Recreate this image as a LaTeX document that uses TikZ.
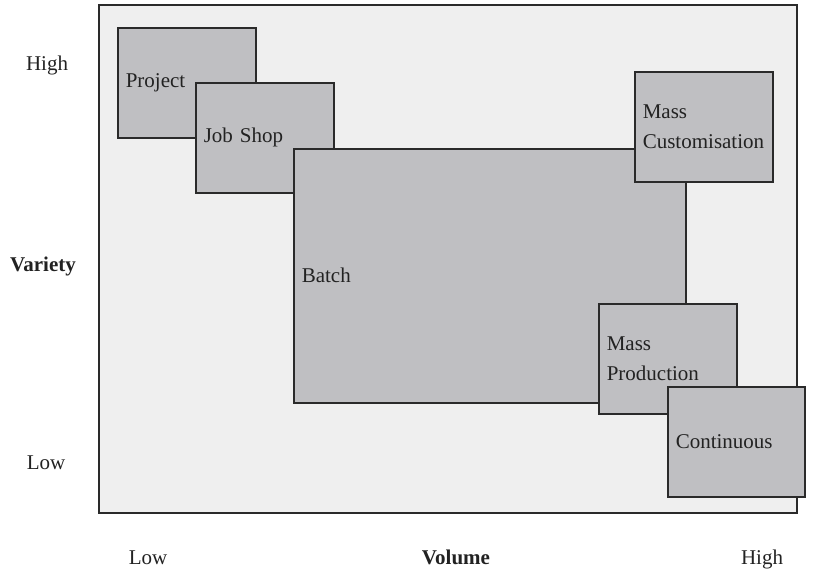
\documentclass[tikz,border=0pt]{standalone}
\usepackage{fontspec}
\setmainfont{Liberation Serif}
\definecolor{panel}{HTML}{EFEFEF}
\definecolor{boxfill}{HTML}{BFBFC2}
\definecolor{edge}{HTML}{2A2A2A}
\definecolor{ink}{HTML}{222222}
\begin{document}
\begin{tikzpicture}[x=1pt,y=-1pt,
  every node/.style={font=\fontsize{21}{30}\selectfont, text=ink},
  procbox/.style={draw=edge, fill=boxfill, line width=1.6pt, anchor=north west,
    inner xsep=8pt, inner ysep=0pt, align=left},
  axislabel/.style={inner sep=0pt},
  axistitle/.style={inner sep=0pt, font=\fontsize{21}{30}\selectfont\bfseries}]
  \useasboundingbox (0,0) rectangle (813,569);
  % chart area
  \draw[edge, fill=panel, line width=1.6pt] (99,5) rectangle (797,513);
  % process types, drawn back to front
  \node[procbox, text width=122pt, minimum height=110pt] (project) at (117,27) {Project};
  \node[procbox, text width=122pt, minimum height=110pt] (jobshop) at (195,82) {Job Shop};
  \node[procbox, text width=376pt, minimum height=254pt] (batch) at (293,148) {Batch};
  \node[procbox, text width=122pt, minimum height=110pt] (masscust) at (634,71) {Mass\\Customisation};
  \node[procbox, text width=122pt, minimum height=110pt] (massprod) at (598,303) {Mass\\Production};
  \node[procbox, text width=121pt, minimum height=110pt] (continuous) at (667,386) {Continuous};
  % variety axis
  \node[axislabel] (varhigh) at (47,65) {High};
  \node[axistitle] (variety) at (43,266) {Variety};
  \node[axislabel] (varlow) at (46,463) {Low};
  % volume axis
  \node[axislabel, anchor=base] (vollow) at (148,564) {Low};
  \node[axistitle, anchor=base] (volume) at (456,564) {Volume};
  \node[axislabel, anchor=base] (volhigh) at (762,564) {High};
\end{tikzpicture}
\end{document}
